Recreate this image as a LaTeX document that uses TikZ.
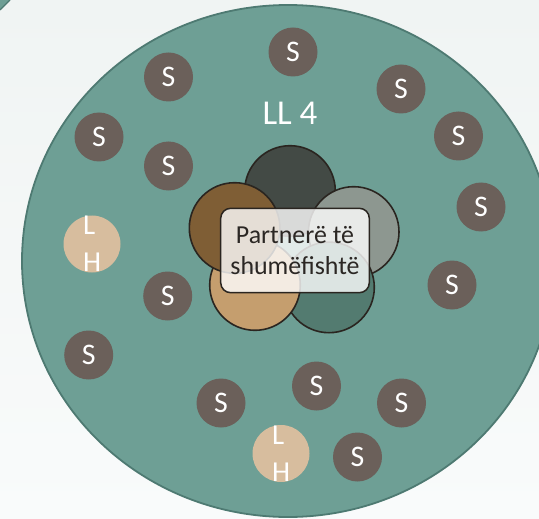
\documentclass[tikz,border=0pt]{standalone}
\usepackage{fontspec}
\setmainfont{Carlito}
\definecolor{bgtop}{HTML}{F0F4F3}
\definecolor{bgbot}{HTML}{F9FBFB}
\definecolor{tealbg}{HTML}{6E9F95}
\definecolor{tealedge}{HTML}{4E7A72}
\definecolor{sfill}{HTML}{6B605A}
\definecolor{lhfill}{HTML}{D7BD9E}
\definecolor{cdark}{HTML}{434A45}
\definecolor{cgray}{HTML}{8D9790}
\definecolor{cteal}{HTML}{537B70}
\definecolor{ctan}{HTML}{C59E6E}
\definecolor{cbrown}{HTML}{7F5E35}
\definecolor{outl}{HTML}{2A2520}
\definecolor{boxtext}{HTML}{2B2724}
\tikzset{
  sbox/.style={circle, fill=sfill, minimum size=49bp, inner sep=0pt, text=white,
    font=\fontsize{30}{36}\selectfont},
  lhcirc/.style={circle, fill=lhfill, minimum size=57bp, inner sep=0pt},
  lhtext/.style={inner sep=0pt, align=left, text=white, font=\fontsize{29}{37}\selectfont},
  petal/.style={circle, draw=outl, line width=1.6bp, minimum size=90.6bp, inner sep=0pt},
  centerbox/.style={rectangle, rounded corners=10bp, draw=outl, line width=1.5bp,
    fill=white, fill opacity=0.8, text opacity=1, text=boxtext,
    minimum width=148.6bp, minimum height=84.4bp, inner sep=0pt, align=center,
    font=\fontsize{26}{32}\selectfont},
  titletext/.style={inner sep=0pt, text=white, font=\fontsize{35}{40}\selectfont}
}
\begin{document}
\begin{tikzpicture}[x=1bp,y=-1bp]
\useasboundingbox (0,0) rectangle (539,519);
\clip (0,0) rectangle (539,519);
\shade[top color=bgtop, bottom color=bgbot] (0,0) rectangle (539,519);
% corner piece of another shape
\fill[tealbg] (0,0) -- (10,0) -- (0,10) -- cycle;
\draw[tealedge, line width=1.2bp] (10,0) -- (0,10);
% big ellipse
\draw[fill=tealbg, draw=tealedge, line width=1.8bp] (288,261) ellipse [x radius=266, y radius=256];
% title
\node[titletext] (title) at (290,113) {LL 4};
% S circles
\node[sbox] (s1) at (293,52) {S};
\node[sbox] (s2) at (168.5,77) {S};
\node[sbox] (s3) at (401,89) {S};
\node[sbox] (s4) at (99,137) {S};
\node[sbox] (s5) at (458.5,136) {S};
\node[sbox] (s6) at (168.5,166) {S};
\node[sbox] (s7) at (481,207) {S};
\node[sbox] (s8) at (452,285) {S};
\node[sbox] (s9) at (167.7,296) {S};
\node[sbox] (s10) at (88.7,355) {S};
\node[sbox] (s11) at (316.5,386) {S};
\node[sbox] (s12) at (221,403) {S};
\node[sbox] (s13) at (401.5,403) {S};
\node[sbox] (s14) at (357.5,457) {S};
% LH circles
\node[lhcirc] (lh1) at (92,244) {};
\node[lhtext] (lh1t) at (lh1) {L\\H};
\node[lhcirc] (lh2) at (281,453.5) {};
\node[lhtext] (lh2t) at (lh2) {L\\H};
% petals
\node[petal, fill=cdark] (p1) at (290,191) {};
\node[petal, fill=cgray] (p2) at (353.7,232) {};
\node[petal, fill=cteal] (p3) at (329,287.4) {};
\node[petal, fill=ctan] (p4) at (255,285) {};
\node[petal, fill=cbrown] (p5) at (234.6,228) {};
% centre box
\node[centerbox] (cb) at (295,250.5) {Partnerë të\\shumëfishtë};
\end{tikzpicture}
\end{document}
